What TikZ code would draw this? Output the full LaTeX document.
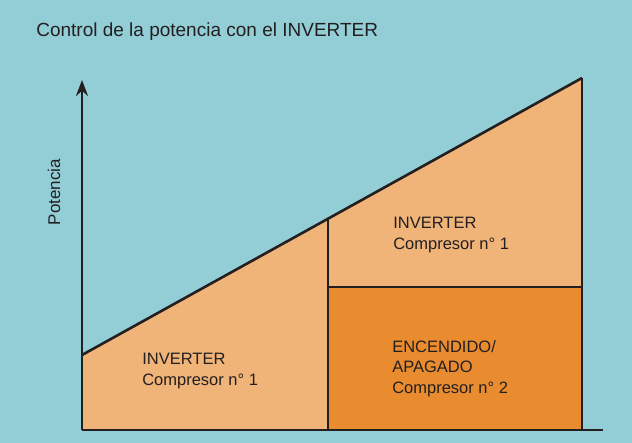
\documentclass[tikz,border=0pt]{standalone}
\usepackage{fontspec}
\setmainfont{Liberation Sans}
\usetikzlibrary{arrows.meta}
\definecolor{fondo}{HTML}{93CED7}
\definecolor{naranjaclaro}{HTML}{F0B479}
\definecolor{naranja}{HTML}{E98C2F}
\definecolor{texto}{HTML}{231F20}
\tikzset{etiqueta/.style={anchor=north west,inner sep=0pt,align=left,text=texto}}
\begin{document}
\begin{tikzpicture}[x=1pt,y=-1pt,line join=round,line width=2.6pt,>={Stealth[length=16pt,width=12pt]},font=\fontsize{16.5}{20.5}\selectfont]
				\fill[fondo] (0,0) rectangle (632,443);
				\coordinate (O) at (82,430);
				\coordinate (A) at (82,355);
				\coordinate (B) at (328,219);
				\coordinate (C) at (582,78);
				\coordinate (D) at (582,287);
				\coordinate (E) at (328,287);
				\coordinate (F) at (582,430);
				\coordinate (G) at (328,430);
				\coordinate (X) at (603,430);
				\coordinate (Y) at (82,80);
				\fill[naranjaclaro] (O)--(A)--(C)--(F)--cycle;
				\fill[naranja] (E)--(D)--(F)--(G)--cycle;
				\foreach\p/\q in {A/C, C/F, B/G, E/D, O/X}{
					\draw[texto] (\p)--(\q);
				};
				\draw[texto,->] (O)--(Y);
				\node[text=texto,anchor=base west,inner sep=0pt,font=\fontsize{19}{21}\selectfont] (titulo) at (35,37) {Control de la potencia con el INVERTER};
				\node[text=texto,rotate=90,inner sep=0pt,font=\fontsize{17}{20}\selectfont] (potencia) at (54,192) {Potencia};
				\node[etiqueta] (inv1) at (141,352) {INVERTER\\Compresor n° 1};
				\node[etiqueta] (inv2) at (392,216) {INVERTER\\Compresor n° 1};
				\node[etiqueta] (onoff) at (391,339) {ENCENDIDO/\\APAGADO\\Compresor n° 2};
\end{tikzpicture}
\end{document}
